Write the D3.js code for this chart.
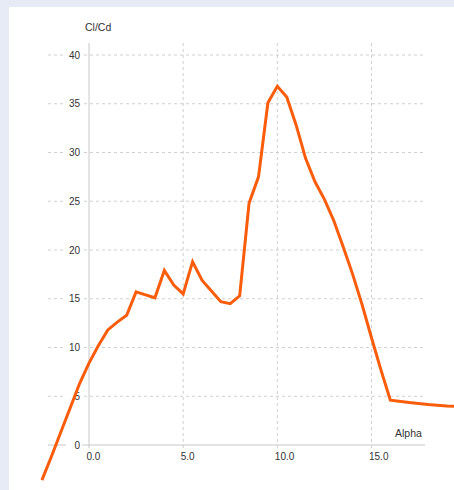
<!DOCTYPE html>
<html><head><meta charset="utf-8">
<script src="https://cdn.jsdelivr.net/npm/d3@7"></script>
<style>html,body{margin:0;padding:0;background:#e7ebf6;}svg{display:block;}</style>
</head><body>
<svg id="c" width="454" height="490"></svg>
<script>
const alpha = [-2.5,-2,-1.5,-1,-0.5,0,0.5,1,1.5,2,2.5,3,3.5,4,4.5,5,5.5,6,6.5,7,7.5,8,8.5,9,9.5,10,10.5,11,11.5,12,12.5,13,13.5,14,14.5,15,15.5,16,17,18,19,20];
const clcd = [-3.6,-1.2,1.3,3.8,6.3,8.4,10.2,11.8,12.6,13.3,15.7,15.4,15.1,17.9,16.4,15.5,18.8,16.9,15.8,14.7,14.5,15.3,24.8,27.5,35.1,36.8,35.7,32.8,29.4,27.0,25.2,23.0,20.3,17.5,14.4,11.0,7.7,4.6,4.35,4.15,4.0,3.9];
const xTicks = [0,5,10,15];
const yTicks = [0,5,10,15,20,25,30,35,40];
const xLabel = "Alpha", yLabel = "Cl/Cd";

const svg = d3.select("#c");
svg.append("rect").attr("x",9).attr("y",7).attr("width",445).attr("height",483).attr("fill","#fff");

const x = d3.scaleLinear().domain([0,15]).range([89,371.5]);
const y = d3.scaleLinear().domain([0,40]).range([445,55]);
const gx0 = 48, gx1 = 425, gyTop = 43;
const font = "'Liberation Sans', Arial, sans-serif";

// horizontal grid
svg.append("g").selectAll("line").data(yTicks.filter(d=>d!==0)).join("line")
  .attr("x1",gx0).attr("x2",gx1).attr("y1",d=>y(d)).attr("y2",d=>y(d))
  .attr("stroke","#cfcfcf").attr("stroke-dasharray","3,3").attr("stroke-width",1);
// vertical grid
svg.append("g").selectAll("line").data(xTicks.filter(d=>d!==0)).join("line")
  .attr("x1",d=>x(d)).attr("x2",d=>x(d)).attr("y1",gyTop).attr("y2",448)
  .attr("stroke","#cfcfcf").attr("stroke-dasharray","3,3").attr("stroke-width",1);
// axes
svg.append("line").attr("x1",gx0).attr("x2",gx1).attr("y1",y(0)).attr("y2",y(0)).attr("stroke","#c8c8c8");
svg.append("line").attr("x1",x(0)).attr("x2",x(0)).attr("y1",gyTop).attr("y2",448).attr("stroke","#c8c8c8");

// y tick labels with white backing
const yl = svg.append("g").selectAll("g").data(yTicks).join("g");
yl.append("rect").attr("x",66).attr("y",d=>y(d)-6).attr("width",16).attr("height",12).attr("fill","#fff");
yl.append("text").attr("x",80).attr("y",d=>y(d)).attr("dy","0.35em").attr("text-anchor","end")
  .attr("font-family",font).attr("font-size",10).attr("fill","#333").text(d=>d);
// x tick labels
svg.append("g").selectAll("text").data(xTicks).join("text")
  .attr("x",d=>x(d)-2.5).attr("y",456).attr("dy","0.35em")
  .attr("font-family",font).attr("font-size",10).attr("fill","#333").text(d=>d.toFixed(1));

svg.append("text").attr("x",85).attr("y",27).attr("dy","0.35em").attr("font-family",font).attr("font-size",10.5).attr("fill","#333").text(yLabel);
svg.append("text").attr("x",395).attr("y",433).attr("dy","0.35em").attr("font-family",font).attr("font-size",10.5).attr("fill","#333").text(xLabel);

const line = d3.line().x((d,i)=>x(alpha[i])).y(d=>y(d));
svg.append("path").datum(clcd).attr("d",line).attr("fill","none")
  .attr("stroke","#f95d0c").attr("stroke-width",3).attr("stroke-linejoin","miter");
</script>
</body></html>
